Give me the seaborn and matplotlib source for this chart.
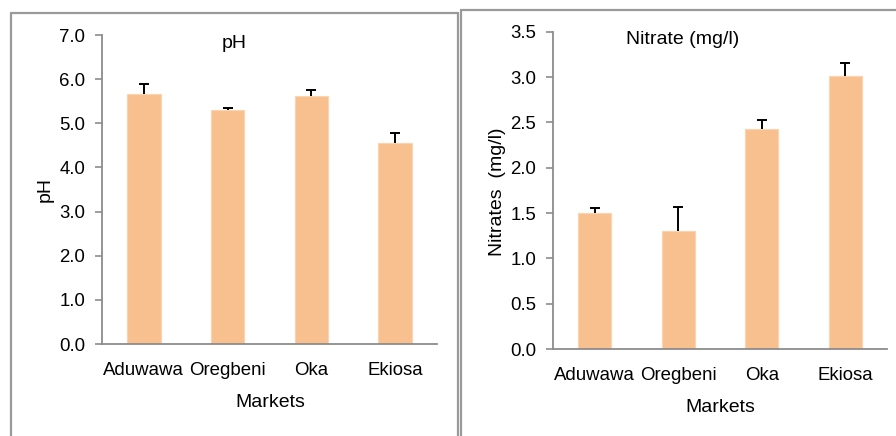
import numpy as np
import pandas as pd
import matplotlib.pyplot as plt
import seaborn as sns
from matplotlib.lines import Line2D

# data
markets = ['Aduwawa', 'Oregbeni', 'Oka', 'Ekiosa']
ph_mean = [5.66, 5.31, 5.62, 4.55]
ph_err = [0.24, 0.03, 0.14, 0.23]
nitrate_mean = [1.50, 1.30, 2.43, 3.01]
nitrate_err = [0.05, 0.27, 0.10, 0.14]

sns.set_style('white')
plt.rcParams['font.family'] = ['Liberation Sans', 'DejaVu Sans']
plt.rcParams['text.color'] = 'black'
plt.rcParams['xtick.color'] = 'black'
plt.rcParams['ytick.color'] = 'black'

bar_color = '#F9C08F'
spine_color = '#8C8C8C'

fig = plt.figure(figsize=(8.96, 4.36), dpi=100)

W, H = 896.0, 436.0


def fx(px):
    return px / W


def fy(py):
    return 1 - py / H


def draw_panel(ax, means, errs, ymax, step, title, title_xy, ylabel, ylabel_xy, xlabel_xy):
    df = pd.DataFrame({'Market': markets, 'Value': means})
    sns.barplot(data=df, x='Market', y='Value', color=bar_color, width=0.4,
                saturation=1, edgecolor='#FCD3AE', linewidth=0.8, ax=ax)
    x = np.arange(len(markets))
    eb = ax.errorbar(x, means, yerr=[np.zeros(len(errs)), errs], fmt='none',
                     ecolor='black', elinewidth=1.4, capsize=3.3, capthick=1.4)
    # plus-only error bars: hide the cap sitting on the bar top
    eb.lines[1][0].set_visible(False)
    ax.set_ylim(0, ymax)
    ax.set_xlim(-0.5, len(markets) - 0.5)
    ticks = np.arange(0, ymax + step / 2, step)
    ax.set_yticks(ticks)
    ax.set_yticklabels(['%.1f' % v for v in ticks])
    ax.set_xticks(np.arange(-0.5, len(markets), 1), minor=True)
    ax.tick_params(axis='x', which='major', length=0, pad=13, labelsize=13.4)
    ax.tick_params(axis='x', which='minor', length=5, color=spine_color, width=1.2, direction='out')
    ax.tick_params(axis='y', length=5, color=spine_color, width=1.2, direction='out',
                   pad=7, labelsize=13.4, left=True)
    ax.set_xlabel('')
    ax.set_ylabel('')
    for s in ['top', 'right']:
        ax.spines[s].set_visible(False)
    for s in ['left', 'bottom']:
        ax.spines[s].set_color(spine_color)
        ax.spines[s].set_linewidth(1.3)
    fig.text(fx(title_xy[0]), fy(title_xy[1]), title, ha='center', va='center', fontsize=14)
    fig.text(fx(ylabel_xy[0]), fy(ylabel_xy[1]), ylabel, ha='center', va='center',
             rotation=90, fontsize=14)
    fig.text(fx(xlabel_xy[0]), fy(xlabel_xy[1]), 'Markets', ha='center', va='center', fontsize=14)


ax1 = fig.add_axes([fx(102), fy(344), fx(437 - 102), (344 - 35) / H])
draw_panel(ax1, ph_mean, ph_err, 7.0, 1.0, 'pH', (234, 43), 'pH', (45, 190), (270, 402))

ax2 = fig.add_axes([fx(553), fy(349), fx(887 - 553), (349 - 31.7) / H])
draw_panel(ax2, nitrate_mean, nitrate_err, 3.5, 0.5, 'Nitrate (mg/l)', (683, 40),
           'Nitrates  (mg/l)', (497, 192), (720, 407))

# panel frames
frame_kw = dict(color='#9A9A9A', linewidth=1.6, transform=fig.transFigure)
fig.add_artist(Line2D([fx(10.5), fx(10.5)], [fy(13), 0], **frame_kw))
fig.add_artist(Line2D([fx(10.5), fx(457.5)], [fy(13), fy(13)], **frame_kw))
fig.add_artist(Line2D([fx(457.5), fx(457.5)], [fy(13), 0], **frame_kw))
fig.add_artist(Line2D([fx(460.5), fx(460.5)], [fy(10), 0], **frame_kw))
fig.add_artist(Line2D([fx(460.5), 1], [fy(10), fy(10)], **frame_kw))

fig.savefig('out.png', dpi=100)
